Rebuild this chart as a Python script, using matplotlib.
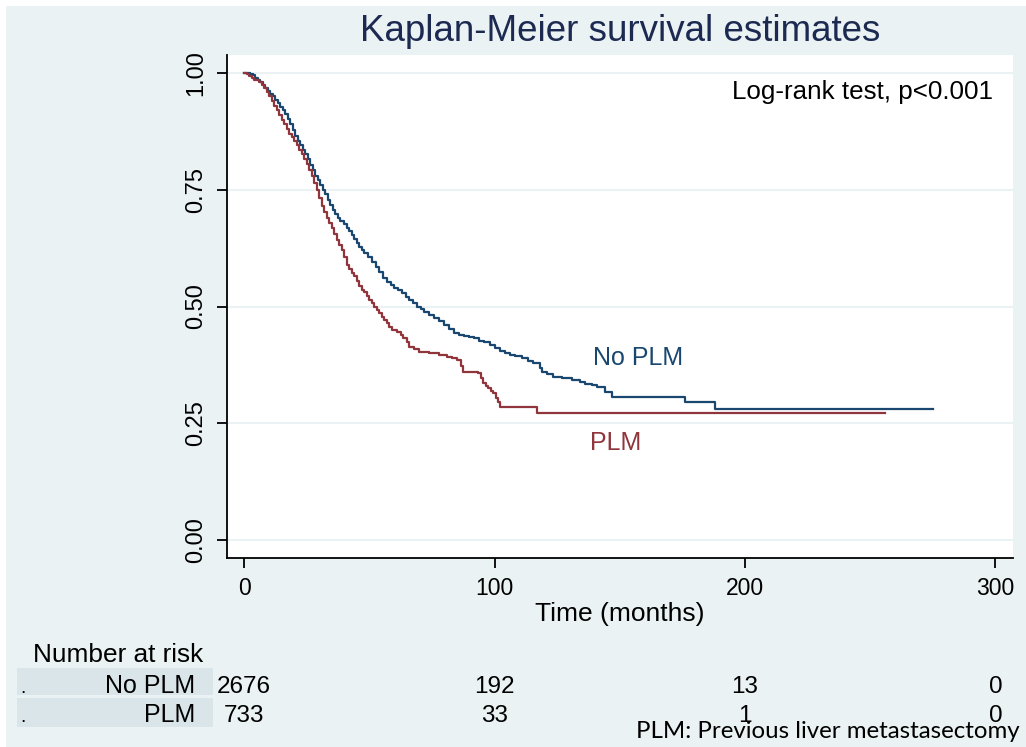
#!/usr/bin/env python3
"""Kaplan-Meier survival estimates, No PLM vs PLM, with number-at-risk table."""
import matplotlib
matplotlib.use("Agg")
import matplotlib.pyplot as plt
from matplotlib.patches import Rectangle
from matplotlib.transforms import blended_transform_factory

# survival curves (months, S(t))
t_noplm = [0, 1.5, 2.5, 3.5, 4.5, 5.5, 6.5, 7.5, 8.5, 9.5, 10.5, 11.5, 12.5, 13.5,
           14.5, 15.5, 16.5, 17.5, 18.5, 19.5, 20.5, 21.5, 22.5, 23.5, 24.5, 25.5,
           26.5, 27.5, 28.5, 29.5, 30.5, 31.5, 32.5, 33.5, 34.5, 35.5, 36.5, 37.5,
           38.5, 40, 41, 42, 43, 44, 45, 46, 47, 48, 49.5, 51, 52.5, 54, 55.5, 57,
           58.5, 60, 61.5, 63, 64.5, 66, 67.5, 69, 70.5, 72, 74, 76, 78, 80, 82, 84,
           86, 88, 90, 92, 94, 96, 98, 100, 102, 104, 106, 108, 111, 113.5, 115.5,
           118, 119, 121, 123.5, 127, 131, 134, 136, 139, 141, 144, 147, 176, 188,
           275]
s_noplm = [1.0, 1.0, 0.997, 0.995, 0.99, 0.985, 0.98, 0.975, 0.968, 0.962, 0.956,
           0.95, 0.942, 0.935, 0.928, 0.921, 0.912, 0.902, 0.89, 0.878, 0.866,
           0.855, 0.846, 0.836, 0.826, 0.815, 0.803, 0.792, 0.78, 0.77, 0.76, 0.75,
           0.74, 0.728, 0.717, 0.707, 0.698, 0.69, 0.684, 0.676, 0.668, 0.662,
           0.654, 0.645, 0.637, 0.628, 0.621, 0.614, 0.606, 0.596, 0.585, 0.574,
           0.562, 0.553, 0.546, 0.54, 0.535, 0.529, 0.521, 0.514, 0.507, 0.5,
           0.494, 0.488, 0.482, 0.476, 0.468, 0.46, 0.452, 0.444, 0.44, 0.437,
           0.435, 0.432, 0.427, 0.423, 0.418, 0.412, 0.405, 0.4, 0.396, 0.393,
           0.389, 0.384, 0.379, 0.369, 0.36, 0.355, 0.35, 0.346, 0.342, 0.339,
           0.335, 0.331, 0.327, 0.318, 0.307, 0.296, 0.281, 0.281]
t_plm = [0, 1, 2, 3, 4, 5, 6, 7, 8, 9, 10, 11, 12, 13, 14, 15, 16, 17, 18, 19, 20,
         21, 22, 23, 24, 25, 26, 27, 28, 29, 30, 31, 32, 33, 34, 35, 36, 37, 38, 39,
         40, 41, 42, 43, 44, 45, 46, 47, 48, 49, 50, 51, 52, 53, 54, 55, 56, 57,
         58, 59, 61, 62.5, 63.5, 65, 66, 68, 70, 74, 78, 81, 83, 85, 86.5, 87.5,
         93.5, 94.5, 95.5, 96.5, 97.5, 98.5, 99.5, 100.5, 101.5, 102.2, 116.8, 256]
s_plm = [1.0, 0.998, 0.994, 0.99, 0.986, 0.984, 0.981, 0.974, 0.967, 0.959, 0.95,
         0.94, 0.93, 0.92, 0.91, 0.9, 0.89, 0.88, 0.87, 0.862, 0.855, 0.845, 0.835,
         0.826, 0.816, 0.805, 0.793, 0.78, 0.765, 0.75, 0.733, 0.715, 0.702, 0.69,
         0.679, 0.668, 0.655, 0.642, 0.631, 0.62, 0.605, 0.589, 0.58, 0.572, 0.565,
         0.554, 0.543, 0.536, 0.53, 0.522, 0.514, 0.507, 0.5, 0.493, 0.486, 0.478,
         0.471, 0.464, 0.457, 0.45, 0.445, 0.438, 0.432, 0.423, 0.414, 0.408,
         0.403, 0.4, 0.396, 0.392, 0.389, 0.385, 0.372, 0.36, 0.357, 0.346, 0.336,
         0.33, 0.325, 0.319, 0.314, 0.305, 0.295, 0.285, 0.271, 0.271]

risk_times = [0, 100, 200, 300]
risk_noplm = [2676, 192, 13, 0]
risk_plm = [733, 33, 1, 0]
row_labels = ["No PLM", "PLM"]

NAVY, MAROON = "#1a476f", "#90353b"
BG, BOX, TITLE = "#eaf2f3", "#dae5ea", "#1c2a52"
W, H = 1026, 747
plt.rcParams["font.family"] = ["Liberation Sans", "DejaVu Sans"]


def fx(px):
    return px / W


def fy(py):
    return 1 - py / H


fig = plt.figure(figsize=(W / 100, H / 100), dpi=100)
fig.patch.set_facecolor("white")
fig.patches.append(Rectangle((fx(6), 0), 1 - fx(6), fy(6), transform=fig.transFigure,
                             facecolor=BG, edgecolor="none", zorder=-10))

ax = fig.add_axes([fx(227), fy(558), fx(1013) - fx(227), fy(55) - fy(558)])
ax.set_facecolor("white")
ax.step(t_noplm, s_noplm, where="post", color=NAVY, lw=1.6, zorder=3)
ax.step(t_plm, s_plm, where="post", color=MAROON, lw=1.6, zorder=3)

ax.set_xlim(-6.8, 307)
ax.set_ylim(-0.0385, 1.0385)
ax.set_xticks(risk_times)
ax.set_yticks([0, 0.25, 0.5, 0.75, 1.0])
ax.set_yticklabels(["0.00", "0.25", "0.50", "0.75", "1.00"], rotation=90, va="center")
ax.tick_params(axis="both", length=7, width=1.3, color="black", direction="out")
ax.tick_params(axis="y", pad=7, labelsize=17)
ax.tick_params(axis="x", pad=7, labelsize=16.5)
ax.grid(axis="y", color=BG, lw=1.5)
ax.set_axisbelow(True)
for sp in ("top", "right"):
    ax.spines[sp].set_visible(False)
for sp in ("left", "bottom"):
    ax.spines[sp].set_linewidth(1.3)
ax.set_xlabel("Time (months)", fontsize=19, labelpad=1)

ax.text(139.3, 0.375, "No PLM", color=NAVY, fontsize=18, va="baseline")
ax.text(138.1, 0.193, "PLM", color=MAROON, fontsize=18, va="baseline")
ax.text(299, 0.944, "Log-rank test, p<0.001", fontsize=18.7, ha="right",
        va="baseline")

fig.text(fx(620), fy(41), "Kaplan-Meier survival estimates", fontsize=26.5,
         color=TITLE, ha="center", va="baseline")

# number at risk table
fig.text(fx(33), fy(662), "Number at risk", fontsize=18.9, va="baseline")
row_y = [693, 722]
box_y = [(668, 695), (698, 727)]
tr = blended_transform_factory(ax.transData, fig.transFigure)
for lab, counts, yb, (b0, b1) in zip(row_labels, [risk_noplm, risk_plm], row_y, box_y):
    fig.patches.append(Rectangle((fx(17), fy(b1)), fx(213) - fx(17), fy(b0) - fy(b1),
                                 transform=fig.transFigure, facecolor=BOX,
                                 edgecolor="none", zorder=-5))
    fig.text(fx(20), fy(yb), ".", fontsize=14, va="baseline")
    fig.text(fx(195), fy(yb), lab, fontsize=18, ha="right", va="baseline")
    for t, n in zip(risk_times, counts):
        ax.text(t, fy(yb), str(n), transform=tr, fontsize=17.5, ha="center",
                va="baseline", clip_on=False)

fig.text(fx(1020), fy(738), "PLM: Previous liver metastasectomy", fontsize=17.3,
         family=["Lato", "DejaVu Sans"], ha="right", va="baseline")

fig.savefig("out.png", dpi=100)
